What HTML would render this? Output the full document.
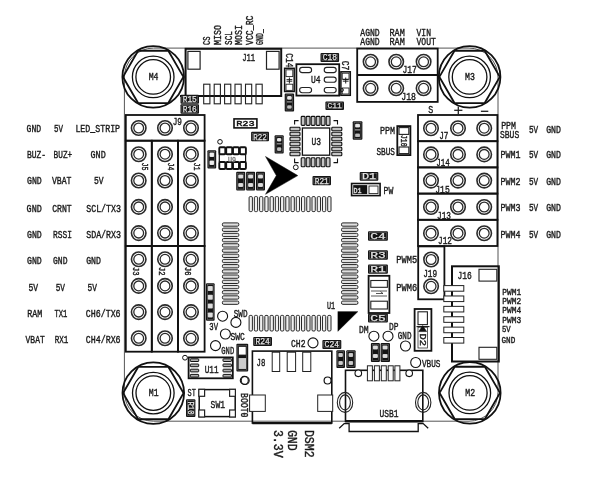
<!DOCTYPE html>
<html><head><meta charset="utf-8"><style>
html,body{margin:0;padding:0;background:#fff;}
svg{display:block;filter:grayscale(1);}
text{font-family:"Liberation Mono",monospace;}
</style></head><body>
<svg width="603" height="481" viewBox="0 0 603 481">
<rect width="603" height="481" fill="#fff"/>
<rect x="124.4" y="48.1" width="373.6" height="373.1" stroke="#555" stroke-width="1.0" fill="none" rx="29.0"/>
<circle cx="153.2" cy="76.9" r="30.8" stroke="#111" stroke-width="1.8" fill="none"/>
<polygon points="183.4,76.9 168.3,103.05 138.1,103.05 123.0,76.9 138.1,50.75 168.3,50.75" stroke="#111" stroke-width="1.8" fill="none"/>
<circle cx="153.2" cy="76.9" r="20.8" stroke="#111" stroke-width="1.3" fill="none"/>
<circle cx="153.2" cy="76.9" r="17.3" stroke="#111" stroke-width="1.3" fill="none"/>
<text x="148.7" y="80.10000000000001" font-size="10.5" textLength="9.8" lengthAdjust="spacingAndGlyphs" fill="#1a1a1a" stroke="#1a1a1a" stroke-width="0.4" text-anchor="start" font-weight="normal">M4</text>
<circle cx="469.6" cy="76.9" r="30.8" stroke="#111" stroke-width="1.8" fill="none"/>
<polygon points="499.8,76.9 484.7,103.05 454.5,103.05 439.4,76.9 454.5,50.75 484.7,50.75" stroke="#111" stroke-width="1.8" fill="none"/>
<circle cx="469.6" cy="76.9" r="20.8" stroke="#111" stroke-width="1.3" fill="none"/>
<circle cx="469.6" cy="76.9" r="17.3" stroke="#111" stroke-width="1.3" fill="none"/>
<text x="465.1" y="80.10000000000001" font-size="10.5" textLength="9.8" lengthAdjust="spacingAndGlyphs" fill="#1a1a1a" stroke="#1a1a1a" stroke-width="0.4" text-anchor="start" font-weight="normal">M3</text>
<circle cx="153.3" cy="393.1" r="30.8" stroke="#111" stroke-width="1.8" fill="none"/>
<polygon points="183.5,393.1 168.4,419.25 138.2,419.25 123.1,393.1 138.2,366.95 168.4,366.95" stroke="#111" stroke-width="1.8" fill="none"/>
<circle cx="153.3" cy="393.1" r="20.8" stroke="#111" stroke-width="1.3" fill="none"/>
<circle cx="153.3" cy="393.1" r="17.3" stroke="#111" stroke-width="1.3" fill="none"/>
<text x="148.8" y="396.3" font-size="10.5" textLength="9.8" lengthAdjust="spacingAndGlyphs" fill="#1a1a1a" stroke="#1a1a1a" stroke-width="0.4" text-anchor="start" font-weight="normal">M1</text>
<circle cx="469.8" cy="392.9" r="30.8" stroke="#111" stroke-width="1.8" fill="none"/>
<polygon points="500.0,392.9 484.9,419.05 454.7,419.05 439.6,392.9 454.7,366.75 484.9,366.75" stroke="#111" stroke-width="1.8" fill="none"/>
<circle cx="469.8" cy="392.9" r="20.8" stroke="#111" stroke-width="1.3" fill="none"/>
<circle cx="469.8" cy="392.9" r="17.3" stroke="#111" stroke-width="1.3" fill="none"/>
<text x="465.3" y="396.09999999999997" font-size="10.5" textLength="9.8" lengthAdjust="spacingAndGlyphs" fill="#1a1a1a" stroke="#1a1a1a" stroke-width="0.4" text-anchor="start" font-weight="normal">M2</text>
<rect x="125.8" y="115.0" width="78.8" height="25.7" stroke="#111" stroke-width="1.8" fill="none" rx="0"/>
<rect x="125.8" y="140.7" width="26.0" height="105.3" stroke="#111" stroke-width="1.8" fill="none" rx="0"/>
<rect x="151.8" y="140.7" width="26.2" height="105.3" stroke="#111" stroke-width="1.8" fill="none" rx="0"/>
<rect x="178.0" y="140.7" width="26.6" height="105.3" stroke="#111" stroke-width="1.8" fill="none" rx="0"/>
<rect x="125.8" y="246.0" width="26.0" height="105.7" stroke="#111" stroke-width="1.8" fill="none" rx="0"/>
<rect x="151.8" y="246.0" width="26.2" height="105.7" stroke="#111" stroke-width="1.8" fill="none" rx="0"/>
<rect x="178.0" y="246.0" width="26.6" height="105.7" stroke="#111" stroke-width="1.8" fill="none" rx="0"/>
<circle cx="138.7" cy="128.0" r="7.25" stroke="#2a2a2a" stroke-width="1.6" fill="none"/>
<circle cx="138.7" cy="128.0" r="4.9" stroke="#2a2a2a" stroke-width="1.3" fill="none"/>
<circle cx="165.0" cy="128.0" r="7.25" stroke="#2a2a2a" stroke-width="1.6" fill="none"/>
<circle cx="165.0" cy="128.0" r="4.9" stroke="#2a2a2a" stroke-width="1.3" fill="none"/>
<circle cx="191.0" cy="128.0" r="7.25" stroke="#2a2a2a" stroke-width="1.6" fill="none"/>
<circle cx="191.0" cy="128.0" r="4.9" stroke="#2a2a2a" stroke-width="1.3" fill="none"/>
<circle cx="138.7" cy="154.2" r="7.25" stroke="#2a2a2a" stroke-width="1.6" fill="none"/>
<circle cx="138.7" cy="154.2" r="4.9" stroke="#2a2a2a" stroke-width="1.3" fill="none"/>
<circle cx="165.0" cy="154.2" r="7.25" stroke="#2a2a2a" stroke-width="1.6" fill="none"/>
<circle cx="165.0" cy="154.2" r="4.9" stroke="#2a2a2a" stroke-width="1.3" fill="none"/>
<circle cx="191.0" cy="154.2" r="7.25" stroke="#2a2a2a" stroke-width="1.6" fill="none"/>
<circle cx="191.0" cy="154.2" r="4.9" stroke="#2a2a2a" stroke-width="1.3" fill="none"/>
<circle cx="138.7" cy="180.5" r="7.25" stroke="#2a2a2a" stroke-width="1.6" fill="none"/>
<circle cx="138.7" cy="180.5" r="4.9" stroke="#2a2a2a" stroke-width="1.3" fill="none"/>
<circle cx="165.0" cy="180.5" r="7.25" stroke="#2a2a2a" stroke-width="1.6" fill="none"/>
<circle cx="165.0" cy="180.5" r="4.9" stroke="#2a2a2a" stroke-width="1.3" fill="none"/>
<circle cx="191.0" cy="180.5" r="7.25" stroke="#2a2a2a" stroke-width="1.6" fill="none"/>
<circle cx="191.0" cy="180.5" r="4.9" stroke="#2a2a2a" stroke-width="1.3" fill="none"/>
<circle cx="138.7" cy="206.9" r="7.25" stroke="#2a2a2a" stroke-width="1.6" fill="none"/>
<circle cx="138.7" cy="206.9" r="4.9" stroke="#2a2a2a" stroke-width="1.3" fill="none"/>
<circle cx="165.0" cy="206.9" r="7.25" stroke="#2a2a2a" stroke-width="1.6" fill="none"/>
<circle cx="165.0" cy="206.9" r="4.9" stroke="#2a2a2a" stroke-width="1.3" fill="none"/>
<circle cx="191.0" cy="206.9" r="7.25" stroke="#2a2a2a" stroke-width="1.6" fill="none"/>
<circle cx="191.0" cy="206.9" r="4.9" stroke="#2a2a2a" stroke-width="1.3" fill="none"/>
<circle cx="138.7" cy="233.1" r="7.25" stroke="#2a2a2a" stroke-width="1.6" fill="none"/>
<circle cx="138.7" cy="233.1" r="4.9" stroke="#2a2a2a" stroke-width="1.3" fill="none"/>
<circle cx="165.0" cy="233.1" r="7.25" stroke="#2a2a2a" stroke-width="1.6" fill="none"/>
<circle cx="165.0" cy="233.1" r="4.9" stroke="#2a2a2a" stroke-width="1.3" fill="none"/>
<circle cx="191.0" cy="233.1" r="7.25" stroke="#2a2a2a" stroke-width="1.6" fill="none"/>
<circle cx="191.0" cy="233.1" r="4.9" stroke="#2a2a2a" stroke-width="1.3" fill="none"/>
<circle cx="138.7" cy="259.3" r="7.25" stroke="#2a2a2a" stroke-width="1.6" fill="none"/>
<circle cx="138.7" cy="259.3" r="4.9" stroke="#2a2a2a" stroke-width="1.3" fill="none"/>
<circle cx="165.0" cy="259.3" r="7.25" stroke="#2a2a2a" stroke-width="1.6" fill="none"/>
<circle cx="165.0" cy="259.3" r="4.9" stroke="#2a2a2a" stroke-width="1.3" fill="none"/>
<circle cx="191.0" cy="259.3" r="7.25" stroke="#2a2a2a" stroke-width="1.6" fill="none"/>
<circle cx="191.0" cy="259.3" r="4.9" stroke="#2a2a2a" stroke-width="1.3" fill="none"/>
<circle cx="138.7" cy="285.9" r="7.25" stroke="#2a2a2a" stroke-width="1.6" fill="none"/>
<circle cx="138.7" cy="285.9" r="4.9" stroke="#2a2a2a" stroke-width="1.3" fill="none"/>
<circle cx="165.0" cy="285.9" r="7.25" stroke="#2a2a2a" stroke-width="1.6" fill="none"/>
<circle cx="165.0" cy="285.9" r="4.9" stroke="#2a2a2a" stroke-width="1.3" fill="none"/>
<circle cx="191.0" cy="285.9" r="7.25" stroke="#2a2a2a" stroke-width="1.6" fill="none"/>
<circle cx="191.0" cy="285.9" r="4.9" stroke="#2a2a2a" stroke-width="1.3" fill="none"/>
<circle cx="138.7" cy="312.1" r="7.25" stroke="#2a2a2a" stroke-width="1.6" fill="none"/>
<circle cx="138.7" cy="312.1" r="4.9" stroke="#2a2a2a" stroke-width="1.3" fill="none"/>
<circle cx="165.0" cy="312.1" r="7.25" stroke="#2a2a2a" stroke-width="1.6" fill="none"/>
<circle cx="165.0" cy="312.1" r="4.9" stroke="#2a2a2a" stroke-width="1.3" fill="none"/>
<circle cx="191.0" cy="312.1" r="7.25" stroke="#2a2a2a" stroke-width="1.6" fill="none"/>
<circle cx="191.0" cy="312.1" r="4.9" stroke="#2a2a2a" stroke-width="1.3" fill="none"/>
<circle cx="138.7" cy="338.3" r="7.25" stroke="#2a2a2a" stroke-width="1.6" fill="none"/>
<circle cx="138.7" cy="338.3" r="4.9" stroke="#2a2a2a" stroke-width="1.3" fill="none"/>
<circle cx="165.0" cy="338.3" r="7.25" stroke="#2a2a2a" stroke-width="1.6" fill="none"/>
<circle cx="165.0" cy="338.3" r="4.9" stroke="#2a2a2a" stroke-width="1.3" fill="none"/>
<circle cx="191.0" cy="338.3" r="7.25" stroke="#2a2a2a" stroke-width="1.6" fill="none"/>
<circle cx="191.0" cy="338.3" r="4.9" stroke="#2a2a2a" stroke-width="1.3" fill="none"/>
<text x="172.7" y="125.3" font-size="10.8" textLength="9.3" lengthAdjust="spacingAndGlyphs" fill="#1a1a1a" stroke="#1a1a1a" stroke-width="0.4" text-anchor="start" font-weight="normal">J9</text>
<text x="142.1" y="162.5" font-size="9" textLength="8" lengthAdjust="spacingAndGlyphs" transform="rotate(90 142.1 162.5)" fill="#1a1a1a" stroke="#1a1a1a" stroke-width="0.4" text-anchor="start" font-weight="normal">J5</text>
<text x="168.4" y="162.5" font-size="9" textLength="8" lengthAdjust="spacingAndGlyphs" transform="rotate(90 168.4 162.5)" fill="#1a1a1a" stroke="#1a1a1a" stroke-width="0.4" text-anchor="start" font-weight="normal">J4</text>
<text x="194.4" y="162.5" font-size="9" textLength="8" lengthAdjust="spacingAndGlyphs" transform="rotate(90 194.4 162.5)" fill="#1a1a1a" stroke="#1a1a1a" stroke-width="0.4" text-anchor="start" font-weight="normal">J1</text>
<text x="133.1" y="267.0" font-size="9" textLength="8.6" lengthAdjust="spacingAndGlyphs" transform="rotate(90 133.1 267.0)" fill="#1a1a1a" stroke="#1a1a1a" stroke-width="0.4" text-anchor="start" font-weight="normal">J3</text>
<text x="159.4" y="267.0" font-size="9" textLength="8.6" lengthAdjust="spacingAndGlyphs" transform="rotate(90 159.4 267.0)" fill="#1a1a1a" stroke="#1a1a1a" stroke-width="0.4" text-anchor="start" font-weight="normal">J2</text>
<text x="185.4" y="267.0" font-size="9" textLength="8.6" lengthAdjust="spacingAndGlyphs" transform="rotate(90 185.4 267.0)" fill="#1a1a1a" stroke="#1a1a1a" stroke-width="0.4" text-anchor="start" font-weight="normal">J6</text>
<text x="26.6" y="132.3" font-size="10.8" textLength="14.6" lengthAdjust="spacingAndGlyphs" fill="#1a1a1a" stroke="#1a1a1a" stroke-width="0.4" text-anchor="start" font-weight="normal">GND</text>
<text x="54.0" y="132.3" font-size="10.8" textLength="9.0" lengthAdjust="spacingAndGlyphs" fill="#1a1a1a" stroke="#1a1a1a" stroke-width="0.4" text-anchor="start" font-weight="normal">5V</text>
<text x="75.4" y="132.3" font-size="10.8" textLength="44.7" lengthAdjust="spacingAndGlyphs" fill="#1a1a1a" stroke="#1a1a1a" stroke-width="0.4" text-anchor="start" font-weight="normal">LED_STRIP</text>
<text x="27.0" y="157.9" font-size="10.8" textLength="19.1" lengthAdjust="spacingAndGlyphs" fill="#1a1a1a" stroke="#1a1a1a" stroke-width="0.4" text-anchor="start" font-weight="normal">BUZ-</text>
<text x="53.6" y="157.9" font-size="10.8" textLength="18.6" lengthAdjust="spacingAndGlyphs" fill="#1a1a1a" stroke="#1a1a1a" stroke-width="0.4" text-anchor="start" font-weight="normal">BUZ+</text>
<text x="90.5" y="157.9" font-size="10.8" textLength="15.2" lengthAdjust="spacingAndGlyphs" fill="#1a1a1a" stroke="#1a1a1a" stroke-width="0.4" text-anchor="start" font-weight="normal">GND</text>
<text x="27.0" y="184.4" font-size="10.8" textLength="14.8" lengthAdjust="spacingAndGlyphs" fill="#1a1a1a" stroke="#1a1a1a" stroke-width="0.4" text-anchor="start" font-weight="normal">GND</text>
<text x="51.9" y="184.4" font-size="10.8" textLength="19.5" lengthAdjust="spacingAndGlyphs" fill="#1a1a1a" stroke="#1a1a1a" stroke-width="0.4" text-anchor="start" font-weight="normal">VBAT</text>
<text x="94.0" y="184.4" font-size="10.8" textLength="9.6" lengthAdjust="spacingAndGlyphs" fill="#1a1a1a" stroke="#1a1a1a" stroke-width="0.4" text-anchor="start" font-weight="normal">5V</text>
<text x="26.6" y="212.0" font-size="10.8" textLength="15.2" lengthAdjust="spacingAndGlyphs" fill="#1a1a1a" stroke="#1a1a1a" stroke-width="0.4" text-anchor="start" font-weight="normal">GND</text>
<text x="52.2" y="212.0" font-size="10.8" textLength="19.5" lengthAdjust="spacingAndGlyphs" fill="#1a1a1a" stroke="#1a1a1a" stroke-width="0.4" text-anchor="start" font-weight="normal">CRNT</text>
<text x="86.2" y="212.0" font-size="10.8" textLength="34.8" lengthAdjust="spacingAndGlyphs" fill="#1a1a1a" stroke="#1a1a1a" stroke-width="0.4" text-anchor="start" font-weight="normal">SCL/TX3</text>
<text x="27.0" y="238.1" font-size="10.8" textLength="14.8" lengthAdjust="spacingAndGlyphs" fill="#1a1a1a" stroke="#1a1a1a" stroke-width="0.4" text-anchor="start" font-weight="normal">GND</text>
<text x="53.0" y="238.1" font-size="10.8" textLength="18.9" lengthAdjust="spacingAndGlyphs" fill="#1a1a1a" stroke="#1a1a1a" stroke-width="0.4" text-anchor="start" font-weight="normal">RSSI</text>
<text x="86.2" y="238.1" font-size="10.8" textLength="34.8" lengthAdjust="spacingAndGlyphs" fill="#1a1a1a" stroke="#1a1a1a" stroke-width="0.4" text-anchor="start" font-weight="normal">SDA/RX3</text>
<text x="27.0" y="264.3" font-size="10.8" textLength="14.8" lengthAdjust="spacingAndGlyphs" fill="#1a1a1a" stroke="#1a1a1a" stroke-width="0.4" text-anchor="start" font-weight="normal">GND</text>
<text x="53.0" y="264.3" font-size="10.8" textLength="14.5" lengthAdjust="spacingAndGlyphs" fill="#1a1a1a" stroke="#1a1a1a" stroke-width="0.4" text-anchor="start" font-weight="normal">GND</text>
<text x="86.2" y="264.3" font-size="10.8" textLength="14.8" lengthAdjust="spacingAndGlyphs" fill="#1a1a1a" stroke="#1a1a1a" stroke-width="0.4" text-anchor="start" font-weight="normal">GND</text>
<text x="28.4" y="290.8" font-size="10.8" textLength="9.6" lengthAdjust="spacingAndGlyphs" fill="#1a1a1a" stroke="#1a1a1a" stroke-width="0.4" text-anchor="start" font-weight="normal">5V</text>
<text x="55.7" y="290.8" font-size="10.8" textLength="9.3" lengthAdjust="spacingAndGlyphs" fill="#1a1a1a" stroke="#1a1a1a" stroke-width="0.4" text-anchor="start" font-weight="normal">5V</text>
<text x="87.6" y="290.8" font-size="10.8" textLength="9.4" lengthAdjust="spacingAndGlyphs" fill="#1a1a1a" stroke="#1a1a1a" stroke-width="0.4" text-anchor="start" font-weight="normal">5V</text>
<text x="27.3" y="317.0" font-size="10.8" textLength="15.0" lengthAdjust="spacingAndGlyphs" fill="#1a1a1a" stroke="#1a1a1a" stroke-width="0.4" text-anchor="start" font-weight="normal">RAM</text>
<text x="54.5" y="317.0" font-size="10.8" textLength="12.9" lengthAdjust="spacingAndGlyphs" fill="#1a1a1a" stroke="#1a1a1a" stroke-width="0.4" text-anchor="start" font-weight="normal">TX1</text>
<text x="85.8" y="317.0" font-size="10.8" textLength="34.8" lengthAdjust="spacingAndGlyphs" fill="#1a1a1a" stroke="#1a1a1a" stroke-width="0.4" text-anchor="start" font-weight="normal">CH6/TX6</text>
<text x="25.6" y="342.6" font-size="10.8" textLength="19.1" lengthAdjust="spacingAndGlyphs" fill="#1a1a1a" stroke="#1a1a1a" stroke-width="0.4" text-anchor="start" font-weight="normal">VBAT</text>
<text x="54.8" y="342.6" font-size="10.8" textLength="13.6" lengthAdjust="spacingAndGlyphs" fill="#1a1a1a" stroke="#1a1a1a" stroke-width="0.4" text-anchor="start" font-weight="normal">RX1</text>
<text x="85.8" y="342.6" font-size="10.8" textLength="34.8" lengthAdjust="spacingAndGlyphs" fill="#1a1a1a" stroke="#1a1a1a" stroke-width="0.4" text-anchor="start" font-weight="normal">CH4/RX6</text>
<rect x="418.0" y="115.0" width="79.4" height="26.2" stroke="#111" stroke-width="1.8" fill="none" rx="0"/>
<rect x="418.0" y="141.2" width="79.4" height="26.2" stroke="#111" stroke-width="1.8" fill="none" rx="0"/>
<rect x="418.0" y="167.4" width="79.4" height="26.2" stroke="#111" stroke-width="1.8" fill="none" rx="0"/>
<rect x="418.0" y="193.6" width="79.4" height="26.2" stroke="#111" stroke-width="1.8" fill="none" rx="0"/>
<rect x="418.0" y="219.8" width="79.4" height="26.2" stroke="#111" stroke-width="1.8" fill="none" rx="0"/>
<circle cx="431.0" cy="128.2" r="7.25" stroke="#2a2a2a" stroke-width="1.6" fill="none"/>
<circle cx="431.0" cy="128.2" r="4.9" stroke="#2a2a2a" stroke-width="1.3" fill="none"/>
<circle cx="458.0" cy="128.2" r="7.25" stroke="#2a2a2a" stroke-width="1.6" fill="none"/>
<circle cx="458.0" cy="128.2" r="4.9" stroke="#2a2a2a" stroke-width="1.3" fill="none"/>
<circle cx="484.2" cy="128.2" r="7.25" stroke="#2a2a2a" stroke-width="1.6" fill="none"/>
<circle cx="484.2" cy="128.2" r="4.9" stroke="#2a2a2a" stroke-width="1.3" fill="none"/>
<circle cx="431.0" cy="154.4" r="7.25" stroke="#2a2a2a" stroke-width="1.6" fill="none"/>
<circle cx="431.0" cy="154.4" r="4.9" stroke="#2a2a2a" stroke-width="1.3" fill="none"/>
<circle cx="458.0" cy="154.4" r="7.25" stroke="#2a2a2a" stroke-width="1.6" fill="none"/>
<circle cx="458.0" cy="154.4" r="4.9" stroke="#2a2a2a" stroke-width="1.3" fill="none"/>
<circle cx="484.2" cy="154.4" r="7.25" stroke="#2a2a2a" stroke-width="1.6" fill="none"/>
<circle cx="484.2" cy="154.4" r="4.9" stroke="#2a2a2a" stroke-width="1.3" fill="none"/>
<circle cx="431.0" cy="180.6" r="7.25" stroke="#2a2a2a" stroke-width="1.6" fill="none"/>
<circle cx="431.0" cy="180.6" r="4.9" stroke="#2a2a2a" stroke-width="1.3" fill="none"/>
<circle cx="458.0" cy="180.6" r="7.25" stroke="#2a2a2a" stroke-width="1.6" fill="none"/>
<circle cx="458.0" cy="180.6" r="4.9" stroke="#2a2a2a" stroke-width="1.3" fill="none"/>
<circle cx="484.2" cy="180.6" r="7.25" stroke="#2a2a2a" stroke-width="1.6" fill="none"/>
<circle cx="484.2" cy="180.6" r="4.9" stroke="#2a2a2a" stroke-width="1.3" fill="none"/>
<circle cx="431.0" cy="207.0" r="7.25" stroke="#2a2a2a" stroke-width="1.6" fill="none"/>
<circle cx="431.0" cy="207.0" r="4.9" stroke="#2a2a2a" stroke-width="1.3" fill="none"/>
<circle cx="458.0" cy="207.0" r="7.25" stroke="#2a2a2a" stroke-width="1.6" fill="none"/>
<circle cx="458.0" cy="207.0" r="4.9" stroke="#2a2a2a" stroke-width="1.3" fill="none"/>
<circle cx="484.2" cy="207.0" r="7.25" stroke="#2a2a2a" stroke-width="1.6" fill="none"/>
<circle cx="484.2" cy="207.0" r="4.9" stroke="#2a2a2a" stroke-width="1.3" fill="none"/>
<circle cx="431.0" cy="233.2" r="7.25" stroke="#2a2a2a" stroke-width="1.6" fill="none"/>
<circle cx="431.0" cy="233.2" r="4.9" stroke="#2a2a2a" stroke-width="1.3" fill="none"/>
<circle cx="458.0" cy="233.2" r="7.25" stroke="#2a2a2a" stroke-width="1.6" fill="none"/>
<circle cx="458.0" cy="233.2" r="4.9" stroke="#2a2a2a" stroke-width="1.3" fill="none"/>
<circle cx="484.2" cy="233.2" r="7.25" stroke="#2a2a2a" stroke-width="1.6" fill="none"/>
<circle cx="484.2" cy="233.2" r="4.9" stroke="#2a2a2a" stroke-width="1.3" fill="none"/>
<text x="428.2" y="113.0" font-size="10.8" textLength="5" lengthAdjust="spacingAndGlyphs" fill="#1a1a1a" stroke="#1a1a1a" stroke-width="0.4" text-anchor="start" font-weight="normal">S</text>
<line x1="454.2" y1="110.3" x2="462.4" y2="110.3" stroke="#222" stroke-width="1.3"/>
<line x1="458.3" y1="106.4" x2="458.3" y2="114.4" stroke="#222" stroke-width="1.3"/>
<line x1="480.9" y1="111.3" x2="488.3" y2="111.3" stroke="#222" stroke-width="1.3"/>
<text x="439.2" y="139.2" font-size="10.8" textLength="9.2" lengthAdjust="spacingAndGlyphs" fill="#1a1a1a" stroke="#1a1a1a" stroke-width="0.4" text-anchor="start" font-weight="normal">J7</text>
<text x="436.2" y="166.3" font-size="10.8" textLength="13.5" lengthAdjust="spacingAndGlyphs" fill="#1a1a1a" stroke="#1a1a1a" stroke-width="0.4" text-anchor="start" font-weight="normal">J14</text>
<text x="435.3" y="192.6" font-size="10.8" textLength="14.4" lengthAdjust="spacingAndGlyphs" fill="#1a1a1a" stroke="#1a1a1a" stroke-width="0.4" text-anchor="start" font-weight="normal">J15</text>
<text x="437.0" y="219.2" font-size="10.8" textLength="14.0" lengthAdjust="spacingAndGlyphs" fill="#1a1a1a" stroke="#1a1a1a" stroke-width="0.4" text-anchor="start" font-weight="normal">J13</text>
<text x="438.0" y="243.5" font-size="10.8" textLength="14.0" lengthAdjust="spacingAndGlyphs" fill="#1a1a1a" stroke="#1a1a1a" stroke-width="0.4" text-anchor="start" font-weight="normal">J12</text>
<rect x="418.2" y="246.4" width="26.2" height="52.9" stroke="#111" stroke-width="1.8" fill="none" rx="0"/>
<circle cx="431.1" cy="259.5" r="7.25" stroke="#2a2a2a" stroke-width="1.6" fill="none"/>
<circle cx="431.1" cy="259.5" r="4.9" stroke="#2a2a2a" stroke-width="1.3" fill="none"/>
<circle cx="431.1" cy="286.3" r="7.25" stroke="#2a2a2a" stroke-width="1.6" fill="none"/>
<circle cx="431.1" cy="286.3" r="4.9" stroke="#2a2a2a" stroke-width="1.3" fill="none"/>
<text x="423.2" y="276.6" font-size="10.8" textLength="14" lengthAdjust="spacingAndGlyphs" fill="#1a1a1a" stroke="#1a1a1a" stroke-width="0.4" text-anchor="start" font-weight="normal">J19</text>
<text x="501.2" y="129.0" font-size="10.8" textLength="14.8" lengthAdjust="spacingAndGlyphs" fill="#1a1a1a" stroke="#1a1a1a" stroke-width="0.4" text-anchor="start" font-weight="normal">PPM</text>
<text x="500.0" y="138.4" font-size="10.8" textLength="19.2" lengthAdjust="spacingAndGlyphs" fill="#1a1a1a" stroke="#1a1a1a" stroke-width="0.4" text-anchor="start" font-weight="normal">SBUS</text>
<text x="529.0" y="133.0" font-size="10.8" textLength="9.2" lengthAdjust="spacingAndGlyphs" fill="#1a1a1a" stroke="#1a1a1a" stroke-width="0.4" text-anchor="start" font-weight="normal">5V</text>
<text x="546.2" y="133.0" font-size="10.8" textLength="14.8" lengthAdjust="spacingAndGlyphs" fill="#1a1a1a" stroke="#1a1a1a" stroke-width="0.4" text-anchor="start" font-weight="normal">GND</text>
<text x="500.5" y="157.9" font-size="10.8" textLength="20" lengthAdjust="spacingAndGlyphs" fill="#1a1a1a" stroke="#1a1a1a" stroke-width="0.4" text-anchor="start" font-weight="normal">PWM1</text>
<text x="529.0" y="157.9" font-size="10.8" textLength="9.2" lengthAdjust="spacingAndGlyphs" fill="#1a1a1a" stroke="#1a1a1a" stroke-width="0.4" text-anchor="start" font-weight="normal">5V</text>
<text x="546.2" y="157.9" font-size="10.8" textLength="14.8" lengthAdjust="spacingAndGlyphs" fill="#1a1a1a" stroke="#1a1a1a" stroke-width="0.4" text-anchor="start" font-weight="normal">GND</text>
<text x="500.5" y="184.8" font-size="10.8" textLength="20" lengthAdjust="spacingAndGlyphs" fill="#1a1a1a" stroke="#1a1a1a" stroke-width="0.4" text-anchor="start" font-weight="normal">PWM2</text>
<text x="529.0" y="184.8" font-size="10.8" textLength="9.2" lengthAdjust="spacingAndGlyphs" fill="#1a1a1a" stroke="#1a1a1a" stroke-width="0.4" text-anchor="start" font-weight="normal">5V</text>
<text x="546.2" y="184.8" font-size="10.8" textLength="14.8" lengthAdjust="spacingAndGlyphs" fill="#1a1a1a" stroke="#1a1a1a" stroke-width="0.4" text-anchor="start" font-weight="normal">GND</text>
<text x="500.5" y="211.0" font-size="10.8" textLength="20" lengthAdjust="spacingAndGlyphs" fill="#1a1a1a" stroke="#1a1a1a" stroke-width="0.4" text-anchor="start" font-weight="normal">PWM3</text>
<text x="529.0" y="211.0" font-size="10.8" textLength="9.2" lengthAdjust="spacingAndGlyphs" fill="#1a1a1a" stroke="#1a1a1a" stroke-width="0.4" text-anchor="start" font-weight="normal">5V</text>
<text x="546.2" y="211.0" font-size="10.8" textLength="14.8" lengthAdjust="spacingAndGlyphs" fill="#1a1a1a" stroke="#1a1a1a" stroke-width="0.4" text-anchor="start" font-weight="normal">GND</text>
<text x="500.5" y="237.8" font-size="10.8" textLength="20" lengthAdjust="spacingAndGlyphs" fill="#1a1a1a" stroke="#1a1a1a" stroke-width="0.4" text-anchor="start" font-weight="normal">PWM4</text>
<text x="529.0" y="237.8" font-size="10.8" textLength="9.2" lengthAdjust="spacingAndGlyphs" fill="#1a1a1a" stroke="#1a1a1a" stroke-width="0.4" text-anchor="start" font-weight="normal">5V</text>
<text x="546.2" y="237.8" font-size="10.8" textLength="14.8" lengthAdjust="spacingAndGlyphs" fill="#1a1a1a" stroke="#1a1a1a" stroke-width="0.4" text-anchor="start" font-weight="normal">GND</text>
<text x="209.7" y="44.9" font-size="10.5" textLength="8.5" lengthAdjust="spacingAndGlyphs" transform="rotate(-90 209.7 44.9)" fill="#1a1a1a" stroke="#1a1a1a" stroke-width="0.4" text-anchor="start" font-weight="normal">CS</text>
<text x="220.7" y="44.9" font-size="10.5" textLength="19.9" lengthAdjust="spacingAndGlyphs" transform="rotate(-90 220.7 44.9)" fill="#1a1a1a" stroke="#1a1a1a" stroke-width="0.4" text-anchor="start" font-weight="normal">MISO</text>
<text x="231.89999999999998" y="44.9" font-size="10.5" textLength="13.7" lengthAdjust="spacingAndGlyphs" transform="rotate(-90 231.89999999999998 44.9)" fill="#1a1a1a" stroke="#1a1a1a" stroke-width="0.4" text-anchor="start" font-weight="normal">SCL</text>
<text x="242.5" y="44.9" font-size="10.5" textLength="19.9" lengthAdjust="spacingAndGlyphs" transform="rotate(-90 242.5 44.9)" fill="#1a1a1a" stroke="#1a1a1a" stroke-width="0.4" text-anchor="start" font-weight="normal">MOSI</text>
<text x="253.29999999999998" y="44.9" font-size="10.5" textLength="29.3" lengthAdjust="spacingAndGlyphs" transform="rotate(-90 253.29999999999998 44.9)" fill="#1a1a1a" stroke="#1a1a1a" stroke-width="0.4" text-anchor="start" font-weight="normal">VCC_RC</text>
<text x="263.3" y="44.9" font-size="10.5" textLength="15.8" lengthAdjust="spacingAndGlyphs" transform="rotate(-90 263.3 44.9)" fill="#1a1a1a" stroke="#1a1a1a" stroke-width="0.4" text-anchor="start" font-weight="normal">GND_</text>
<line x1="180" y1="96" x2="281.2" y2="96" stroke="#111" stroke-width="1.8"/>
<rect x="185.6" y="48.8" width="95.6" height="47.2" stroke="#111" stroke-width="2.0" fill="none" rx="0"/>
<rect x="187.9" y="51.4" width="12.2" height="17.8" stroke="#222" stroke-width="1.2" fill="#fff" rx="0"/>
<rect x="266.5" y="51.4" width="12.6" height="17.8" stroke="#222" stroke-width="1.2" fill="#fff" rx="0"/>
<rect x="203.7" y="84.2" width="6.2" height="19.6" stroke="#222" stroke-width="1.1" fill="none" rx="0"/>
<rect x="214.2" y="84.2" width="6.2" height="19.6" stroke="#222" stroke-width="1.1" fill="none" rx="0"/>
<rect x="224.6" y="84.2" width="6.2" height="19.6" stroke="#222" stroke-width="1.1" fill="none" rx="0"/>
<rect x="235.0" y="84.2" width="6.2" height="19.6" stroke="#222" stroke-width="1.1" fill="none" rx="0"/>
<rect x="245.5" y="84.2" width="6.2" height="19.6" stroke="#222" stroke-width="1.1" fill="none" rx="0"/>
<rect x="256.0" y="84.2" width="6.2" height="19.6" stroke="#222" stroke-width="1.1" fill="none" rx="0"/>
<text x="242.2" y="60.7" font-size="10.8" textLength="13" lengthAdjust="spacingAndGlyphs" fill="#1a1a1a" stroke="#1a1a1a" stroke-width="0.4" text-anchor="start" font-weight="normal">J11</text>
<rect x="180.5" y="94.8" width="18.5" height="9.0" fill="#141414" rx="1.0"/>
<rect x="181.9" y="96.2" width="15.7" height="6.2" stroke="#777" stroke-width="0.5" fill="none" rx="0"/>
<text x="182.70" y="102.20" font-size="8.5" textLength="14.1" lengthAdjust="spacingAndGlyphs" fill="#e2e2e2" stroke="#e2e2e2" stroke-width="0.25">R15</text>
<rect x="180.5" y="104.3" width="18.5" height="9.5" fill="#141414" rx="1.0"/>
<rect x="181.9" y="105.7" width="15.7" height="6.7" stroke="#777" stroke-width="0.5" fill="none" rx="0"/>
<text x="182.70" y="112.20" font-size="9.3" textLength="14.1" lengthAdjust="spacingAndGlyphs" fill="#e2e2e2" stroke="#e2e2e2" stroke-width="0.25">R16</text>
<text x="286.0" y="53.2" font-size="10" textLength="14.2" lengthAdjust="spacingAndGlyphs" transform="rotate(90 286.0 53.2)" fill="#1a1a1a" stroke="#1a1a1a" stroke-width="0.4" text-anchor="start" font-weight="normal">C14</text>
<rect x="284.6" y="68.3" width="9.6" height="23.2" stroke="#111" stroke-width="1.5" fill="none" rx="0"/>
<rect x="286.0" y="69.8" width="6.8" height="6.8" stroke="#222" stroke-width="0.9" fill="#fff" rx="0"/>
<rect x="286.0" y="84.2" width="6.8" height="6.2" stroke="#222" stroke-width="0.9" fill="#fff" rx="0"/>
<line x1="286.5" y1="79.6" x2="292.3" y2="79.6" stroke="#111" stroke-width="0.9"/>
<line x1="286.5" y1="81.2" x2="292.3" y2="81.2" stroke="#111" stroke-width="0.9"/>
<line x1="289.4" y1="77.5" x2="289.4" y2="83.5" stroke="#111" stroke-width="0.9"/>
<rect x="284.7" y="93.5" width="9.400000000000034" height="17.900000000000006" fill="#141414" rx="1.0"/>
<rect x="286.09999999999997" y="94.9" width="6.600000000000034" height="15.100000000000005" stroke="#777" stroke-width="0.5" fill="none" rx="0"/>
<rect x="287.09999999999997" y="96.1" width="4.600000000000034" height="3.5800000000000014" stroke="#111" stroke-width="0.1" fill="#e8e8e8" rx="1.2"/>
<line x1="286.9" y1="101.913" x2="291.90000000000003" y2="101.913" stroke="#cfcfcf" stroke-width="0.9"/>
<rect x="287.09999999999997" y="105.22000000000001" width="4.600000000000034" height="3.5800000000000014" stroke="#111" stroke-width="0.1" fill="#bdbdbd" rx="1.2"/>
<rect x="296.4" y="64.2" width="42.8" height="31.4" stroke="#111" stroke-width="1.8" fill="none" rx="0"/>
<rect x="299.6" y="67.4" width="12" height="5.2" stroke="#222" stroke-width="1.1" fill="none" rx="2.6"/>
<rect x="299.6" y="87.5" width="12" height="5.2" stroke="#222" stroke-width="1.1" fill="none" rx="2.6"/>
<rect x="324.2" y="67.4" width="12" height="5.2" stroke="#222" stroke-width="1.1" fill="none" rx="2.6"/>
<rect x="324.2" y="77.1" width="12" height="5.2" stroke="#222" stroke-width="1.1" fill="none" rx="2.6"/>
<rect x="324.2" y="87.5" width="12" height="5.2" stroke="#222" stroke-width="1.1" fill="none" rx="2.6"/>
<text x="311.0" y="83.0" font-size="10.8" textLength="9.6" lengthAdjust="spacingAndGlyphs" fill="#1a1a1a" stroke="#1a1a1a" stroke-width="0.4" text-anchor="start" font-weight="normal">U4</text>
<rect x="320.5" y="52.9" width="18.600000000000023" height="9.100000000000001" fill="#141414" rx="1.0"/>
<rect x="321.9" y="54.3" width="15.800000000000022" height="6.300000000000002" stroke="#777" stroke-width="0.5" fill="none" rx="0"/>
<text x="322.70" y="60.40" font-size="8.7" textLength="14.2" lengthAdjust="spacingAndGlyphs" fill="#e2e2e2" stroke="#e2e2e2" stroke-width="0.25">C18</text>
<text x="341.5" y="60.7" font-size="10" textLength="9.7" lengthAdjust="spacingAndGlyphs" transform="rotate(90 341.5 60.7)" fill="#1a1a1a" stroke="#1a1a1a" stroke-width="0.4" text-anchor="start" font-weight="normal">C7</text>
<rect x="340.9" y="71.8" width="9.4" height="23.5" stroke="#111" stroke-width="1.5" fill="none" rx="0"/>
<rect x="342.2" y="73.2" width="6.8" height="6.0" stroke="#222" stroke-width="0.9" fill="#fff" rx="0"/>
<rect x="342.2" y="88.0" width="6.8" height="6.0" stroke="#222" stroke-width="0.9" fill="#fff" rx="0"/>
<line x1="342.8" y1="79.6" x2="348.6" y2="79.6" stroke="#111" stroke-width="0.9"/>
<line x1="342.8" y1="81.2" x2="348.6" y2="81.2" stroke="#111" stroke-width="0.9"/>
<line x1="345.7" y1="77.5" x2="345.7" y2="83.5" stroke="#111" stroke-width="0.9"/>
<circle cx="341.9" cy="90.0" r="1.6" stroke="#111" stroke-width="0.8" fill="none"/>
<rect x="325.4" y="101.4" width="18.600000000000023" height="8.599999999999994" fill="#141414" rx="1.0"/>
<rect x="326.79999999999995" y="102.80000000000001" width="15.800000000000022" height="5.7999999999999945" stroke="#777" stroke-width="0.5" fill="none" rx="0"/>
<text x="327.60" y="108.40" font-size="7.9" textLength="14.2" lengthAdjust="spacingAndGlyphs" fill="#e2e2e2" stroke="#e2e2e2" stroke-width="0.25">C11</text>
<rect x="357.2" y="48.6" width="80.5" height="53.3" stroke="#111" stroke-width="1.8" fill="none" rx="0"/>
<line x1="357.2" y1="75.0" x2="437.7" y2="75.0" stroke="#111" stroke-width="1.8"/>
<circle cx="370.6" cy="61.8" r="7.25" stroke="#2a2a2a" stroke-width="1.6" fill="none"/>
<circle cx="370.6" cy="61.8" r="4.9" stroke="#2a2a2a" stroke-width="1.3" fill="none"/>
<circle cx="396.2" cy="61.8" r="7.25" stroke="#2a2a2a" stroke-width="1.6" fill="none"/>
<circle cx="396.2" cy="61.8" r="4.9" stroke="#2a2a2a" stroke-width="1.3" fill="none"/>
<circle cx="423.6" cy="61.8" r="7.25" stroke="#2a2a2a" stroke-width="1.6" fill="none"/>
<circle cx="423.6" cy="61.8" r="4.9" stroke="#2a2a2a" stroke-width="1.3" fill="none"/>
<circle cx="370.6" cy="88.3" r="7.25" stroke="#2a2a2a" stroke-width="1.6" fill="none"/>
<circle cx="370.6" cy="88.3" r="4.9" stroke="#2a2a2a" stroke-width="1.3" fill="none"/>
<circle cx="396.2" cy="88.3" r="7.25" stroke="#2a2a2a" stroke-width="1.6" fill="none"/>
<circle cx="396.2" cy="88.3" r="4.9" stroke="#2a2a2a" stroke-width="1.3" fill="none"/>
<circle cx="423.6" cy="88.3" r="7.25" stroke="#2a2a2a" stroke-width="1.6" fill="none"/>
<circle cx="423.6" cy="88.3" r="4.9" stroke="#2a2a2a" stroke-width="1.3" fill="none"/>
<text x="402.4" y="73.2" font-size="10.8" textLength="14.4" lengthAdjust="spacingAndGlyphs" fill="#1a1a1a" stroke="#1a1a1a" stroke-width="0.4" text-anchor="start" font-weight="normal">J17</text>
<text x="401.3" y="99.8" font-size="10.8" textLength="14.7" lengthAdjust="spacingAndGlyphs" fill="#1a1a1a" stroke="#1a1a1a" stroke-width="0.4" text-anchor="start" font-weight="normal">J18</text>
<text x="360.3" y="36.1" font-size="10.8" textLength="19.4" lengthAdjust="spacingAndGlyphs" fill="#1a1a1a" stroke="#1a1a1a" stroke-width="0.4" text-anchor="start" font-weight="normal">AGND</text>
<text x="360.3" y="45.3" font-size="10.8" textLength="19.4" lengthAdjust="spacingAndGlyphs" fill="#1a1a1a" stroke="#1a1a1a" stroke-width="0.4" text-anchor="start" font-weight="normal">AGND</text>
<text x="389.5" y="36.1" font-size="10.8" textLength="15.3" lengthAdjust="spacingAndGlyphs" fill="#1a1a1a" stroke="#1a1a1a" stroke-width="0.4" text-anchor="start" font-weight="normal">RAM</text>
<text x="389.5" y="45.3" font-size="10.8" textLength="15.3" lengthAdjust="spacingAndGlyphs" fill="#1a1a1a" stroke="#1a1a1a" stroke-width="0.4" text-anchor="start" font-weight="normal">RAM</text>
<text x="416.5" y="36.1" font-size="10.8" textLength="14.5" lengthAdjust="spacingAndGlyphs" fill="#1a1a1a" stroke="#1a1a1a" stroke-width="0.4" text-anchor="start" font-weight="normal">VIN</text>
<text x="416.5" y="45.3" font-size="10.8" textLength="19.5" lengthAdjust="spacingAndGlyphs" fill="#1a1a1a" stroke="#1a1a1a" stroke-width="0.4" text-anchor="start" font-weight="normal">VOUT</text>
<rect x="234.0" y="118.89999999999999" width="22.9" height="8.999999999999995" stroke="#111" stroke-width="1.6" fill="#fff" rx="0"/>
<text x="236.2" y="126.19999999999999" font-size="8" textLength="18.5" lengthAdjust="spacingAndGlyphs" fill="#111" stroke="#111" stroke-width="0.4" text-anchor="start" font-weight="normal">R23</text>
<rect x="251.1" y="131.8" width="17.900000000000006" height="9.5" fill="#141414" rx="1.0"/>
<rect x="252.5" y="133.20000000000002" width="15.100000000000005" height="6.7" stroke="#777" stroke-width="0.5" fill="none" rx="0"/>
<text x="253.30" y="139.70" font-size="9.3" textLength="13.5" lengthAdjust="spacingAndGlyphs" fill="#e2e2e2" stroke="#e2e2e2" stroke-width="0.25">R22</text>
<rect x="274.6" y="135.3" width="9.099999999999966" height="18.19999999999999" fill="#141414" rx="1.0"/>
<rect x="276.0" y="136.70000000000002" width="6.299999999999966" height="15.399999999999988" stroke="#777" stroke-width="0.5" fill="none" rx="0"/>
<rect x="277.0" y="137.9" width="4.299999999999966" height="3.639999999999998" stroke="#111" stroke-width="0.1" fill="#e8e8e8" rx="1.2"/>
<line x1="276.8" y1="143.854" x2="281.5" y2="143.854" stroke="#cfcfcf" stroke-width="0.9"/>
<rect x="277.0" y="147.26000000000002" width="4.299999999999966" height="3.639999999999998" stroke="#111" stroke-width="0.1" fill="#bdbdbd" rx="1.2"/>
<circle cx="220.0" cy="141.8" r="2.3" stroke="#111" stroke-width="1.0" fill="none"/>
<rect x="219.3" y="147.3" width="6.0" height="7.0" stroke="#111" stroke-width="1.9" fill="#fff" rx="1.0"/>
<rect x="219.3" y="162.0" width="6.0" height="7.0" stroke="#111" stroke-width="1.9" fill="#fff" rx="1.0"/>
<rect x="226.20000000000002" y="147.3" width="6.0" height="7.0" stroke="#111" stroke-width="1.9" fill="#fff" rx="1.0"/>
<rect x="226.20000000000002" y="162.0" width="6.0" height="7.0" stroke="#111" stroke-width="1.9" fill="#fff" rx="1.0"/>
<rect x="233.0" y="147.3" width="6.0" height="7.0" stroke="#111" stroke-width="1.9" fill="#fff" rx="1.0"/>
<rect x="233.0" y="162.0" width="6.0" height="7.0" stroke="#111" stroke-width="1.9" fill="#fff" rx="1.0"/>
<rect x="239.9" y="147.3" width="6.0" height="7.0" stroke="#111" stroke-width="1.9" fill="#fff" rx="1.0"/>
<rect x="239.9" y="162.0" width="6.0" height="7.0" stroke="#111" stroke-width="1.9" fill="#fff" rx="1.0"/>
<line x1="219.3" y1="154" x2="219.3" y2="162" stroke="#111" stroke-width="1.2"/>
<line x1="245.6" y1="154" x2="245.6" y2="162" stroke="#111" stroke-width="1.2"/>
<text x="228.0" y="161.5" font-size="8" textLength="8" lengthAdjust="spacingAndGlyphs" fill="#777" stroke="#777" stroke-width="0.4" text-anchor="start" font-weight="normal">U9</text>
<rect x="207.4" y="150.2" width="8.799999999999983" height="18.30000000000001" fill="#141414" rx="1.0"/>
<rect x="208.8" y="151.6" width="5.999999999999983" height="15.50000000000001" stroke="#777" stroke-width="0.5" fill="none" rx="0"/>
<rect x="209.5" y="152.5" width="4.6" height="4.6" stroke="#111" stroke-width="0.1" fill="#eee" rx="1"/>
<rect x="209.5" y="160.5" width="4.6" height="4.6" stroke="#111" stroke-width="0.1" fill="#eee" rx="1"/>
<rect x="236.2" y="171.8" width="9.0" height="18.69999999999999" fill="#141414" rx="1.0"/>
<rect x="237.6" y="173.20000000000002" width="6.2" height="15.899999999999988" stroke="#777" stroke-width="0.5" fill="none" rx="0"/>
<rect x="238.2" y="174.5" width="5" height="4" stroke="#111" stroke-width="0.1" fill="#ddd" rx="1"/>
<rect x="238.2" y="183" width="5" height="4" stroke="#111" stroke-width="0.1" fill="#ddd" rx="1"/>
<rect x="246.1" y="171.8" width="9.0" height="18.69999999999999" fill="#141414" rx="1.0"/>
<rect x="247.5" y="173.20000000000002" width="6.2" height="15.899999999999988" stroke="#777" stroke-width="0.5" fill="none" rx="0"/>
<rect x="248.1" y="174.5" width="5" height="4" stroke="#111" stroke-width="0.1" fill="#ddd" rx="1"/>
<rect x="248.1" y="183" width="5" height="4" stroke="#111" stroke-width="0.1" fill="#ddd" rx="1"/>
<rect x="256.0" y="171.8" width="9.0" height="18.69999999999999" fill="#141414" rx="1.0"/>
<rect x="257.4" y="173.20000000000002" width="6.2" height="15.899999999999988" stroke="#777" stroke-width="0.5" fill="none" rx="0"/>
<rect x="258.0" y="174.5" width="5" height="4" stroke="#111" stroke-width="0.1" fill="#ddd" rx="1"/>
<rect x="258.0" y="183" width="5" height="4" stroke="#111" stroke-width="0.1" fill="#ddd" rx="1"/>
<rect x="312.5" y="176.0" width="18.5" height="9.199999999999989" fill="#141414" rx="1.0"/>
<rect x="313.9" y="177.4" width="15.7" height="6.399999999999989" stroke="#777" stroke-width="0.5" fill="none" rx="0"/>
<text x="314.70" y="183.60" font-size="8.8" textLength="14.1" lengthAdjust="spacingAndGlyphs" fill="#e2e2e2" stroke="#e2e2e2" stroke-width="0.25">R21</text>
<polygon points="265.5,156.5 297.8,175.6 265.5,194.3 276.3,175.6" stroke="#111" stroke-width="0.5" fill="#000"/>
<rect x="302.4" y="128.0" width="27.3" height="27.2" stroke="#111" stroke-width="1.3" fill="none" rx="0"/>
<rect x="301.2" y="116.4" width="3.8" height="9.0" stroke="#111" stroke-width="1.1" fill="#c4c4c4" rx="0.9"/>
<rect x="301.2" y="157.8" width="3.8" height="9.0" stroke="#111" stroke-width="1.1" fill="#c4c4c4" rx="0.9"/>
<rect x="290.0" y="127.2" width="10.0" height="3.6" stroke="#111" stroke-width="1.1" fill="#c4c4c4" rx="0.9"/>
<rect x="331.8" y="127.2" width="10.0" height="3.6" stroke="#111" stroke-width="1.1" fill="#c4c4c4" rx="0.9"/>
<rect x="306.2" y="116.4" width="3.8" height="9.0" stroke="#111" stroke-width="1.1" fill="#c4c4c4" rx="0.9"/>
<rect x="306.2" y="157.8" width="3.8" height="9.0" stroke="#111" stroke-width="1.1" fill="#c4c4c4" rx="0.9"/>
<rect x="290.0" y="132.2" width="10.0" height="3.6" stroke="#111" stroke-width="1.1" fill="#c4c4c4" rx="0.9"/>
<rect x="331.8" y="132.2" width="10.0" height="3.6" stroke="#111" stroke-width="1.1" fill="#c4c4c4" rx="0.9"/>
<rect x="311.2" y="116.4" width="3.8" height="9.0" stroke="#111" stroke-width="1.1" fill="#c4c4c4" rx="0.9"/>
<rect x="311.2" y="157.8" width="3.8" height="9.0" stroke="#111" stroke-width="1.1" fill="#c4c4c4" rx="0.9"/>
<rect x="290.0" y="137.2" width="10.0" height="3.6" stroke="#111" stroke-width="1.1" fill="#c4c4c4" rx="0.9"/>
<rect x="331.8" y="137.2" width="10.0" height="3.6" stroke="#111" stroke-width="1.1" fill="#c4c4c4" rx="0.9"/>
<rect x="316.2" y="116.4" width="3.8" height="9.0" stroke="#111" stroke-width="1.1" fill="#c4c4c4" rx="0.9"/>
<rect x="316.2" y="157.8" width="3.8" height="9.0" stroke="#111" stroke-width="1.1" fill="#c4c4c4" rx="0.9"/>
<rect x="290.0" y="142.2" width="10.0" height="3.6" stroke="#111" stroke-width="1.1" fill="#c4c4c4" rx="0.9"/>
<rect x="331.8" y="142.2" width="10.0" height="3.6" stroke="#111" stroke-width="1.1" fill="#c4c4c4" rx="0.9"/>
<rect x="321.2" y="116.4" width="3.8" height="9.0" stroke="#111" stroke-width="1.1" fill="#c4c4c4" rx="0.9"/>
<rect x="321.2" y="157.8" width="3.8" height="9.0" stroke="#111" stroke-width="1.1" fill="#c4c4c4" rx="0.9"/>
<rect x="290.0" y="147.2" width="10.0" height="3.6" stroke="#111" stroke-width="1.1" fill="#c4c4c4" rx="0.9"/>
<rect x="331.8" y="147.2" width="10.0" height="3.6" stroke="#111" stroke-width="1.1" fill="#c4c4c4" rx="0.9"/>
<rect x="326.2" y="116.4" width="3.8" height="9.0" stroke="#111" stroke-width="1.1" fill="#c4c4c4" rx="0.9"/>
<rect x="326.2" y="157.8" width="3.8" height="9.0" stroke="#111" stroke-width="1.1" fill="#c4c4c4" rx="0.9"/>
<rect x="290.0" y="152.2" width="10.0" height="3.6" stroke="#111" stroke-width="1.1" fill="#c4c4c4" rx="0.9"/>
<rect x="331.8" y="152.2" width="10.0" height="3.6" stroke="#111" stroke-width="1.1" fill="#c4c4c4" rx="0.9"/>
<polyline points="294.6,124.6 294.6,120.6 298.6,120.6" stroke="#111" stroke-width="1.1" fill="none"/>
<polyline points="337.5,124.6 337.5,120.6 333.5,120.6" stroke="#111" stroke-width="1.1" fill="none"/>
<polyline points="294.6,158.6 294.6,162.6 298.6,162.6" stroke="#111" stroke-width="1.1" fill="none"/>
<polyline points="337.5,158.6 337.5,162.6 333.5,162.6" stroke="#111" stroke-width="1.1" fill="none"/>
<circle cx="295.8" cy="167.3" r="2.4" stroke="#111" stroke-width="1.0" fill="none"/>
<text x="311.4" y="145.0" font-size="10.8" textLength="9.5" lengthAdjust="spacingAndGlyphs" fill="#1a1a1a" stroke="#1a1a1a" stroke-width="0.4" text-anchor="start" font-weight="normal">U3</text>
<rect x="352.7" y="121.2" width="9.699999999999989" height="18.499999999999986" fill="#141414" rx="1.0"/>
<rect x="354.09999999999997" y="122.60000000000001" width="6.899999999999989" height="15.699999999999985" stroke="#777" stroke-width="0.5" fill="none" rx="0"/>
<rect x="355.09999999999997" y="123.8" width="4.899999999999989" height="3.6999999999999975" stroke="#111" stroke-width="0.1" fill="#e8e8e8" rx="1.2"/>
<line x1="354.9" y1="129.89499999999998" x2="360.2" y2="129.89499999999998" stroke="#cfcfcf" stroke-width="0.9"/>
<rect x="355.09999999999997" y="133.4" width="4.899999999999989" height="3.6999999999999975" stroke="#111" stroke-width="0.1" fill="#bdbdbd" rx="1.2"/>
<rect x="397.3" y="126.1" width="13.1" height="29.0" stroke="#111" stroke-width="1.8" fill="none" rx="0"/>
<rect x="399.0" y="127.6" width="9.8" height="6.8" stroke="#222" stroke-width="1.1" fill="#fff" rx="0"/>
<rect x="399.0" y="147.0" width="9.8" height="6.6" stroke="#222" stroke-width="1.1" fill="#fff" rx="0"/>
<text x="401.3" y="135.0" font-size="9" textLength="11.5" lengthAdjust="spacingAndGlyphs" transform="rotate(90 401.3 135.0)" fill="#1a1a1a" stroke="#1a1a1a" stroke-width="0.4" text-anchor="start" font-weight="normal">J10</text>
<text x="380.0" y="134.4" font-size="10.8" textLength="15" lengthAdjust="spacingAndGlyphs" fill="#1a1a1a" stroke="#1a1a1a" stroke-width="0.4" text-anchor="start" font-weight="normal">PPM</text>
<text x="376.5" y="154.7" font-size="10.8" textLength="18.5" lengthAdjust="spacingAndGlyphs" fill="#1a1a1a" stroke="#1a1a1a" stroke-width="0.4" text-anchor="start" font-weight="normal">SBUS</text>
<rect x="359.7" y="171.9" width="18.600000000000023" height="8.799999999999983" fill="#141414" rx="1.0"/>
<rect x="361.09999999999997" y="173.3" width="15.800000000000022" height="5.999999999999983" stroke="#777" stroke-width="0.5" fill="none" rx="0"/>
<text x="361.90" y="179.10" font-size="8.2" textLength="14.2" lengthAdjust="spacingAndGlyphs" fill="#e2e2e2" stroke="#e2e2e2" stroke-width="0.25">D1</text>
<rect x="351.6" y="183.5" width="28.5" height="12.1" stroke="#111" stroke-width="1.6" fill="none" rx="0"/>
<rect x="353.2" y="185.1" width="14" height="9" fill="#111" rx="0"/>
<text x="353.6" y="192.5" font-size="7" textLength="8" lengthAdjust="spacingAndGlyphs" fill="#ddd" stroke="#ddd" stroke-width="0.4" text-anchor="start" font-weight="normal">D1</text>
<rect x="369.0" y="186.0" width="9.0" height="7.6" stroke="#222" stroke-width="0.9" fill="#fff" rx="0"/>
<text x="383.6" y="193.6" font-size="10.8" textLength="9.7" lengthAdjust="spacingAndGlyphs" fill="#1a1a1a" stroke="#1a1a1a" stroke-width="0.4" text-anchor="start" font-weight="normal">PW</text>
<rect x="249.1" y="196.6" width="3.3" height="15.0" stroke="#1a1a1a" stroke-width="0.95" fill="#f0f0f0" rx="1.1"/>
<rect x="249.1" y="315.4" width="3.3" height="15.6" stroke="#1a1a1a" stroke-width="0.95" fill="#f0f0f0" rx="1.1"/>
<rect x="222.4" y="222.9" width="16.4" height="3.3" stroke="#1a1a1a" stroke-width="0.95" fill="#e0e0e0" rx="1.3"/>
<rect x="341.5" y="222.9" width="16.4" height="3.3" stroke="#1a1a1a" stroke-width="0.95" fill="#e0e0e0" rx="1.3"/>
<rect x="254.34" y="196.6" width="3.3" height="15.0" stroke="#1a1a1a" stroke-width="0.95" fill="#f0f0f0" rx="1.1"/>
<rect x="254.34" y="315.4" width="3.3" height="15.6" stroke="#1a1a1a" stroke-width="0.95" fill="#f0f0f0" rx="1.1"/>
<rect x="222.4" y="228.11" width="16.4" height="3.3" stroke="#1a1a1a" stroke-width="0.95" fill="#e0e0e0" rx="1.3"/>
<rect x="341.5" y="228.11" width="16.4" height="3.3" stroke="#1a1a1a" stroke-width="0.95" fill="#e0e0e0" rx="1.3"/>
<rect x="259.58" y="196.6" width="3.3" height="15.0" stroke="#1a1a1a" stroke-width="0.95" fill="#f0f0f0" rx="1.1"/>
<rect x="259.58" y="315.4" width="3.3" height="15.6" stroke="#1a1a1a" stroke-width="0.95" fill="#f0f0f0" rx="1.1"/>
<rect x="222.4" y="233.32" width="16.4" height="3.3" stroke="#1a1a1a" stroke-width="0.95" fill="#e0e0e0" rx="1.3"/>
<rect x="341.5" y="233.32" width="16.4" height="3.3" stroke="#1a1a1a" stroke-width="0.95" fill="#e0e0e0" rx="1.3"/>
<rect x="264.82" y="196.6" width="3.3" height="15.0" stroke="#1a1a1a" stroke-width="0.95" fill="#f0f0f0" rx="1.1"/>
<rect x="264.82" y="315.4" width="3.3" height="15.6" stroke="#1a1a1a" stroke-width="0.95" fill="#f0f0f0" rx="1.1"/>
<rect x="222.4" y="238.53" width="16.4" height="3.3" stroke="#1a1a1a" stroke-width="0.95" fill="#e0e0e0" rx="1.3"/>
<rect x="341.5" y="238.53" width="16.4" height="3.3" stroke="#1a1a1a" stroke-width="0.95" fill="#e0e0e0" rx="1.3"/>
<rect x="270.06" y="196.6" width="3.3" height="15.0" stroke="#1a1a1a" stroke-width="0.95" fill="#f0f0f0" rx="1.1"/>
<rect x="270.06" y="315.4" width="3.3" height="15.6" stroke="#1a1a1a" stroke-width="0.95" fill="#f0f0f0" rx="1.1"/>
<rect x="222.4" y="243.74" width="16.4" height="3.3" stroke="#1a1a1a" stroke-width="0.95" fill="#e0e0e0" rx="1.3"/>
<rect x="341.5" y="243.74" width="16.4" height="3.3" stroke="#1a1a1a" stroke-width="0.95" fill="#e0e0e0" rx="1.3"/>
<rect x="275.3" y="196.6" width="3.3" height="15.0" stroke="#1a1a1a" stroke-width="0.95" fill="#f0f0f0" rx="1.1"/>
<rect x="275.3" y="315.4" width="3.3" height="15.6" stroke="#1a1a1a" stroke-width="0.95" fill="#f0f0f0" rx="1.1"/>
<rect x="222.4" y="248.95000000000002" width="16.4" height="3.3" stroke="#1a1a1a" stroke-width="0.95" fill="#e0e0e0" rx="1.3"/>
<rect x="341.5" y="248.95000000000002" width="16.4" height="3.3" stroke="#1a1a1a" stroke-width="0.95" fill="#e0e0e0" rx="1.3"/>
<rect x="280.54" y="196.6" width="3.3" height="15.0" stroke="#1a1a1a" stroke-width="0.95" fill="#f0f0f0" rx="1.1"/>
<rect x="280.54" y="315.4" width="3.3" height="15.6" stroke="#1a1a1a" stroke-width="0.95" fill="#f0f0f0" rx="1.1"/>
<rect x="222.4" y="254.16" width="16.4" height="3.3" stroke="#1a1a1a" stroke-width="0.95" fill="#e0e0e0" rx="1.3"/>
<rect x="341.5" y="254.16" width="16.4" height="3.3" stroke="#1a1a1a" stroke-width="0.95" fill="#e0e0e0" rx="1.3"/>
<rect x="285.78" y="196.6" width="3.3" height="15.0" stroke="#1a1a1a" stroke-width="0.95" fill="#f0f0f0" rx="1.1"/>
<rect x="285.78" y="315.4" width="3.3" height="15.6" stroke="#1a1a1a" stroke-width="0.95" fill="#f0f0f0" rx="1.1"/>
<rect x="222.4" y="259.37" width="16.4" height="3.3" stroke="#1a1a1a" stroke-width="0.95" fill="#e0e0e0" rx="1.3"/>
<rect x="341.5" y="259.37" width="16.4" height="3.3" stroke="#1a1a1a" stroke-width="0.95" fill="#e0e0e0" rx="1.3"/>
<rect x="291.02" y="196.6" width="3.3" height="15.0" stroke="#1a1a1a" stroke-width="0.95" fill="#f0f0f0" rx="1.1"/>
<rect x="291.02" y="315.4" width="3.3" height="15.6" stroke="#1a1a1a" stroke-width="0.95" fill="#f0f0f0" rx="1.1"/>
<rect x="222.4" y="264.58" width="16.4" height="3.3" stroke="#1a1a1a" stroke-width="0.95" fill="#e0e0e0" rx="1.3"/>
<rect x="341.5" y="264.58" width="16.4" height="3.3" stroke="#1a1a1a" stroke-width="0.95" fill="#e0e0e0" rx="1.3"/>
<rect x="296.26" y="196.6" width="3.3" height="15.0" stroke="#1a1a1a" stroke-width="0.95" fill="#f0f0f0" rx="1.1"/>
<rect x="296.26" y="315.4" width="3.3" height="15.6" stroke="#1a1a1a" stroke-width="0.95" fill="#f0f0f0" rx="1.1"/>
<rect x="222.4" y="269.79" width="16.4" height="3.3" stroke="#1a1a1a" stroke-width="0.95" fill="#e0e0e0" rx="1.3"/>
<rect x="341.5" y="269.79" width="16.4" height="3.3" stroke="#1a1a1a" stroke-width="0.95" fill="#e0e0e0" rx="1.3"/>
<rect x="301.5" y="196.6" width="3.3" height="15.0" stroke="#1a1a1a" stroke-width="0.95" fill="#f0f0f0" rx="1.1"/>
<rect x="301.5" y="315.4" width="3.3" height="15.6" stroke="#1a1a1a" stroke-width="0.95" fill="#f0f0f0" rx="1.1"/>
<rect x="222.4" y="275.0" width="16.4" height="3.3" stroke="#1a1a1a" stroke-width="0.95" fill="#e0e0e0" rx="1.3"/>
<rect x="341.5" y="275.0" width="16.4" height="3.3" stroke="#1a1a1a" stroke-width="0.95" fill="#e0e0e0" rx="1.3"/>
<rect x="306.74" y="196.6" width="3.3" height="15.0" stroke="#1a1a1a" stroke-width="0.95" fill="#f0f0f0" rx="1.1"/>
<rect x="306.74" y="315.4" width="3.3" height="15.6" stroke="#1a1a1a" stroke-width="0.95" fill="#f0f0f0" rx="1.1"/>
<rect x="222.4" y="280.21000000000004" width="16.4" height="3.3" stroke="#1a1a1a" stroke-width="0.95" fill="#e0e0e0" rx="1.3"/>
<rect x="341.5" y="280.21000000000004" width="16.4" height="3.3" stroke="#1a1a1a" stroke-width="0.95" fill="#e0e0e0" rx="1.3"/>
<rect x="311.98" y="196.6" width="3.3" height="15.0" stroke="#1a1a1a" stroke-width="0.95" fill="#f0f0f0" rx="1.1"/>
<rect x="311.98" y="315.4" width="3.3" height="15.6" stroke="#1a1a1a" stroke-width="0.95" fill="#f0f0f0" rx="1.1"/>
<rect x="222.4" y="285.42" width="16.4" height="3.3" stroke="#1a1a1a" stroke-width="0.95" fill="#e0e0e0" rx="1.3"/>
<rect x="341.5" y="285.42" width="16.4" height="3.3" stroke="#1a1a1a" stroke-width="0.95" fill="#e0e0e0" rx="1.3"/>
<rect x="317.22" y="196.6" width="3.3" height="15.0" stroke="#1a1a1a" stroke-width="0.95" fill="#f0f0f0" rx="1.1"/>
<rect x="317.22" y="315.4" width="3.3" height="15.6" stroke="#1a1a1a" stroke-width="0.95" fill="#f0f0f0" rx="1.1"/>
<rect x="222.4" y="290.63" width="16.4" height="3.3" stroke="#1a1a1a" stroke-width="0.95" fill="#e0e0e0" rx="1.3"/>
<rect x="341.5" y="290.63" width="16.4" height="3.3" stroke="#1a1a1a" stroke-width="0.95" fill="#e0e0e0" rx="1.3"/>
<rect x="322.46" y="196.6" width="3.3" height="15.0" stroke="#1a1a1a" stroke-width="0.95" fill="#f0f0f0" rx="1.1"/>
<rect x="322.46" y="315.4" width="3.3" height="15.6" stroke="#1a1a1a" stroke-width="0.95" fill="#f0f0f0" rx="1.1"/>
<rect x="222.4" y="295.84000000000003" width="16.4" height="3.3" stroke="#1a1a1a" stroke-width="0.95" fill="#e0e0e0" rx="1.3"/>
<rect x="341.5" y="295.84000000000003" width="16.4" height="3.3" stroke="#1a1a1a" stroke-width="0.95" fill="#e0e0e0" rx="1.3"/>
<rect x="327.7" y="196.6" width="3.3" height="15.0" stroke="#1a1a1a" stroke-width="0.95" fill="#f0f0f0" rx="1.1"/>
<rect x="327.7" y="315.4" width="3.3" height="15.6" stroke="#1a1a1a" stroke-width="0.95" fill="#f0f0f0" rx="1.1"/>
<rect x="222.4" y="301.05" width="16.4" height="3.3" stroke="#1a1a1a" stroke-width="0.95" fill="#e0e0e0" rx="1.3"/>
<rect x="341.5" y="301.05" width="16.4" height="3.3" stroke="#1a1a1a" stroke-width="0.95" fill="#e0e0e0" rx="1.3"/>
<text x="326.9" y="308.5" font-size="10.8" textLength="8.1" lengthAdjust="spacingAndGlyphs" fill="#1a1a1a" stroke="#1a1a1a" stroke-width="0.4" text-anchor="start" font-weight="normal">U1</text>
<polygon points="337.8,311.6 358.0,311.6 337.8,331.4" stroke="#111" stroke-width="0.3" fill="#000"/>
<rect x="368.0" y="231.2" width="19.899999999999977" height="9.5" fill="#141414" rx="1.0"/>
<rect x="369.4" y="232.6" width="17.099999999999977" height="6.7" stroke="#777" stroke-width="0.5" fill="none" rx="0"/>
<text x="370.20" y="239.10" font-size="9.3" textLength="15.5" lengthAdjust="spacingAndGlyphs" fill="#e2e2e2" stroke="#e2e2e2" stroke-width="0.25">C4</text>
<rect x="368.0" y="250.3" width="19.899999999999977" height="9.5" fill="#141414" rx="1.0"/>
<rect x="369.4" y="251.70000000000002" width="17.099999999999977" height="6.7" stroke="#777" stroke-width="0.5" fill="none" rx="0"/>
<text x="370.20" y="258.20" font-size="9.3" textLength="15.5" lengthAdjust="spacingAndGlyphs" fill="#e2e2e2" stroke="#e2e2e2" stroke-width="0.25">R3</text>
<rect x="368.0" y="264.4" width="19.899999999999977" height="9.400000000000034" fill="#141414" rx="1.0"/>
<rect x="369.4" y="265.79999999999995" width="17.099999999999977" height="6.600000000000034" stroke="#777" stroke-width="0.5" fill="none" rx="0"/>
<text x="370.20" y="272.20" font-size="9.1" textLength="15.5" lengthAdjust="spacingAndGlyphs" fill="#e2e2e2" stroke="#e2e2e2" stroke-width="0.25">R1</text>
<rect x="368.6" y="275.8" width="20.8" height="37.2" stroke="#111" stroke-width="1.8" fill="none" rx="0"/>
<rect x="370.8" y="280.5" width="16.6" height="6.8" stroke="#222" stroke-width="1.1" fill="#fff" rx="0"/>
<rect x="370.8" y="301.2" width="16.6" height="7.8" stroke="#222" stroke-width="1.1" fill="#fff" rx="0"/>
<line x1="371" y1="291.0" x2="387" y2="291.0" stroke="#111" stroke-width="0.7"/>
<line x1="371" y1="296.0" x2="387" y2="296.0" stroke="#111" stroke-width="0.7"/>
<polyline points="376,293.5 383,293.5 380.5,291.6" stroke="#111" stroke-width="0.7" fill="none"/>
<rect x="368.0" y="313.6" width="19.899999999999977" height="9.0" fill="#141414" rx="1.0"/>
<rect x="369.4" y="315.0" width="17.099999999999977" height="6.2" stroke="#777" stroke-width="0.5" fill="none" rx="0"/>
<text x="370.20" y="321.00" font-size="8.5" textLength="15.5" lengthAdjust="spacingAndGlyphs" fill="#e2e2e2" stroke="#e2e2e2" stroke-width="0.25">C5</text>
<text x="396.3" y="263.4" font-size="10.8" textLength="20.8" lengthAdjust="spacingAndGlyphs" fill="#1a1a1a" stroke="#1a1a1a" stroke-width="0.4" text-anchor="start" font-weight="normal">PWM5</text>
<text x="396.3" y="290.7" font-size="10.8" textLength="20.8" lengthAdjust="spacingAndGlyphs" fill="#1a1a1a" stroke="#1a1a1a" stroke-width="0.4" text-anchor="start" font-weight="normal">PWM6</text>
<circle cx="373.9" cy="336.2" r="5.0" stroke="#111" stroke-width="1.1" fill="none"/>
<circle cx="388.0" cy="336.2" r="5.0" stroke="#111" stroke-width="1.1" fill="none"/>
<circle cx="405.5" cy="346.0" r="5.0" stroke="#111" stroke-width="1.1" fill="none"/>
<circle cx="415.7" cy="362.5" r="5.0" stroke="#111" stroke-width="1.1" fill="none"/>
<text x="359.0" y="333.0" font-size="10.8" textLength="9.7" lengthAdjust="spacingAndGlyphs" fill="#1a1a1a" stroke="#1a1a1a" stroke-width="0.4" text-anchor="start" font-weight="normal">DM</text>
<text x="389.0" y="330.0" font-size="10.8" textLength="9.5" lengthAdjust="spacingAndGlyphs" fill="#1a1a1a" stroke="#1a1a1a" stroke-width="0.4" text-anchor="start" font-weight="normal">DP</text>
<text x="397.8" y="338.9" font-size="10.8" textLength="13.7" lengthAdjust="spacingAndGlyphs" fill="#1a1a1a" stroke="#1a1a1a" stroke-width="0.4" text-anchor="start" font-weight="normal">GND</text>
<text x="422.0" y="366.5" font-size="10.8" textLength="18.5" lengthAdjust="spacingAndGlyphs" fill="#1a1a1a" stroke="#1a1a1a" stroke-width="0.4" text-anchor="start" font-weight="normal">VBUS</text>
<rect x="370.9" y="343.0" width="9.0" height="19.0" fill="#141414" rx="1.0"/>
<rect x="372.29999999999995" y="344.4" width="6.2" height="16.2" stroke="#777" stroke-width="0.5" fill="none" rx="0"/>
<rect x="380.6" y="343.0" width="9.399999999999977" height="19.0" fill="#141414" rx="1.0"/>
<rect x="382.0" y="344.4" width="6.599999999999977" height="16.2" stroke="#777" stroke-width="0.5" fill="none" rx="0"/>
<rect x="372.9" y="345.5" width="5" height="4" stroke="#111" stroke-width="0.1" fill="#ddd" rx="1"/>
<rect x="372.9" y="354" width="5" height="4" stroke="#111" stroke-width="0.1" fill="#ddd" rx="1"/>
<rect x="382.6" y="345.5" width="5" height="4" stroke="#111" stroke-width="0.1" fill="#ddd" rx="1"/>
<rect x="382.6" y="354" width="5" height="4" stroke="#111" stroke-width="0.1" fill="#ddd" rx="1"/>
<rect x="414.6" y="309.0" width="16.8" height="41.8" stroke="#111" stroke-width="1.8" fill="none" rx="0"/>
<rect x="418.0" y="311.8" width="9.4" height="12.8" stroke="#222" stroke-width="1.1" fill="#fff" rx="0"/>
<rect x="418.0" y="327.2" width="9.4" height="20.8" stroke="#333" stroke-width="0.8" fill="none" rx="0"/>
<line x1="416.5" y1="326.6" x2="429.5" y2="326.6" stroke="#111" stroke-width="1.1"/>
<polygon points="422.7,325.6 426.6,331.6 418.8,331.6" stroke="#111" stroke-width="0.6" fill="#111"/>
<text x="419.6" y="333.5" font-size="9" textLength="12.5" lengthAdjust="spacingAndGlyphs" transform="rotate(90 419.6 333.5)" fill="#1a1a1a" stroke="#1a1a1a" stroke-width="0.4" text-anchor="start" font-weight="normal">D2</text>
<rect x="452.0" y="266.3" width="46.8" height="95.2" stroke="#111" stroke-width="2.0" fill="none" rx="0"/>
<rect x="479.0" y="269.3" width="17.8" height="11.8" stroke="#222" stroke-width="1.1" fill="#fff" rx="0"/>
<rect x="479.0" y="347.3" width="17.8" height="12.0" stroke="#222" stroke-width="1.1" fill="#fff" rx="0"/>
<rect x="443.8" y="285.6" width="20.0" height="5.6" stroke="#222" stroke-width="1.0" fill="#fff" rx="0"/>
<rect x="443.8" y="295.98" width="20.0" height="5.6" stroke="#222" stroke-width="1.0" fill="#fff" rx="0"/>
<rect x="443.8" y="306.36" width="20.0" height="5.6" stroke="#222" stroke-width="1.0" fill="#fff" rx="0"/>
<rect x="443.8" y="316.74" width="20.0" height="5.6" stroke="#222" stroke-width="1.0" fill="#fff" rx="0"/>
<rect x="443.8" y="327.12" width="20.0" height="5.6" stroke="#222" stroke-width="1.0" fill="#fff" rx="0"/>
<rect x="443.8" y="337.5" width="20.0" height="5.6" stroke="#222" stroke-width="1.0" fill="#fff" rx="0"/>
<text x="457.4" y="278.5" font-size="10.8" textLength="14.3" lengthAdjust="spacingAndGlyphs" fill="#1a1a1a" stroke="#1a1a1a" stroke-width="0.4" text-anchor="start" font-weight="normal">J16</text>
<text x="502.3" y="294.5" font-size="9.5" textLength="18.9" lengthAdjust="spacingAndGlyphs" fill="#1a1a1a" stroke="#1a1a1a" stroke-width="0.4" text-anchor="start" font-weight="normal">PWM1</text>
<text x="502.3" y="303.85" font-size="9.5" textLength="18.9" lengthAdjust="spacingAndGlyphs" fill="#1a1a1a" stroke="#1a1a1a" stroke-width="0.4" text-anchor="start" font-weight="normal">PWM2</text>
<text x="502.3" y="313.2" font-size="9.5" textLength="18.9" lengthAdjust="spacingAndGlyphs" fill="#1a1a1a" stroke="#1a1a1a" stroke-width="0.4" text-anchor="start" font-weight="normal">PWM4</text>
<text x="502.3" y="322.55" font-size="9.5" textLength="18.9" lengthAdjust="spacingAndGlyphs" fill="#1a1a1a" stroke="#1a1a1a" stroke-width="0.4" text-anchor="start" font-weight="normal">PWM3</text>
<text x="502.0" y="332.3" font-size="9.5" textLength="8.7" lengthAdjust="spacingAndGlyphs" fill="#1a1a1a" stroke="#1a1a1a" stroke-width="0.4" text-anchor="start" font-weight="normal">5V</text>
<text x="501.5" y="342.5" font-size="9.5" textLength="13.8" lengthAdjust="spacingAndGlyphs" fill="#1a1a1a" stroke="#1a1a1a" stroke-width="0.4" text-anchor="start" font-weight="normal">GND</text>
<rect x="345.5" y="370.3" width="77.3" height="51.3" stroke="#111" stroke-width="1.6" fill="none" rx="0"/>
<line x1="345.5" y1="421.2" x2="422.8" y2="421.2" stroke="#111" stroke-width="2.2"/>
<rect x="367.4" y="365.8" width="5.0" height="15.0" stroke="#222" stroke-width="1.0" fill="#fafafa" rx="0"/>
<rect x="374.4" y="365.8" width="5.0" height="15.0" stroke="#222" stroke-width="1.0" fill="#fafafa" rx="0"/>
<rect x="381.3" y="365.8" width="5.0" height="15.0" stroke="#222" stroke-width="1.0" fill="#fafafa" rx="0"/>
<rect x="388.2" y="365.8" width="5.0" height="15.0" stroke="#222" stroke-width="1.0" fill="#fafafa" rx="0"/>
<rect x="394.9" y="365.8" width="5.0" height="15.0" stroke="#222" stroke-width="1.0" fill="#fafafa" rx="0"/>
<circle cx="358.3" cy="373.3" r="3.3" stroke="#111" stroke-width="1.1" fill="#fff"/>
<circle cx="409.2" cy="373.3" r="3.3" stroke="#111" stroke-width="1.1" fill="#fff"/>
<ellipse cx="345.0" cy="402.4" rx="7.7" ry="10" stroke="#222" stroke-width="1.1" fill="none"/>
<ellipse cx="345.0" cy="402.4" rx="5.4" ry="7.5" stroke="#222" stroke-width="1.1" fill="none"/>
<ellipse cx="423.2" cy="402.4" rx="7.7" ry="10" stroke="#222" stroke-width="1.1" fill="none"/>
<ellipse cx="423.2" cy="402.4" rx="5.4" ry="7.5" stroke="#222" stroke-width="1.1" fill="none"/>
<text x="379.6" y="417.0" font-size="10.8" textLength="19" lengthAdjust="spacingAndGlyphs" fill="#1a1a1a" stroke="#1a1a1a" stroke-width="0.4" text-anchor="start" font-weight="normal">USB1</text>
<polyline points="339.2,428.2 344.2,423.6 349.1,423.6 349.1,431.5 418.2,431.5 418.2,423.6 423.2,423.6 428.2,428.2" stroke="#111" stroke-width="1.3" fill="none"/>
<rect x="252.4" y="351.1" width="79.4" height="71.9" stroke="#111" stroke-width="1.6" fill="none" rx="0"/>
<line x1="252.4" y1="423.1" x2="331.8" y2="423.1" stroke="#111" stroke-width="2.4"/>
<rect x="272.2" y="352.2" width="7.5" height="19.3" stroke="#222" stroke-width="1.0" fill="#fff" rx="0"/>
<rect x="287.2" y="352.2" width="8.400000000000034" height="19.3" stroke="#222" stroke-width="1.0" fill="#fff" rx="0"/>
<rect x="302.7" y="352.2" width="8.100000000000023" height="19.3" stroke="#222" stroke-width="1.0" fill="#fff" rx="0"/>
<rect x="249.6" y="395.0" width="15.7" height="16.4" stroke="#222" stroke-width="1.0" fill="#fff" rx="0"/>
<rect x="317.7" y="395.0" width="15.0" height="16.4" stroke="#222" stroke-width="1.0" fill="#fff" rx="0"/>
<circle cx="327.6" cy="380.5" r="3.5" stroke="#111" stroke-width="1.2" fill="#fff"/>
<circle cx="245.2" cy="380.5" r="4.0" stroke="#111" stroke-width="1.1" fill="none"/>
<text x="256.5" y="365.9" font-size="10.8" textLength="8.8" lengthAdjust="spacingAndGlyphs" fill="#1a1a1a" stroke="#1a1a1a" stroke-width="0.4" text-anchor="start" font-weight="normal">J8</text>
<text x="291.0" y="346.6" font-size="10.8" textLength="14.5" lengthAdjust="spacingAndGlyphs" fill="#1a1a1a" stroke="#1a1a1a" stroke-width="0.4" text-anchor="start" font-weight="normal">CH2</text>
<circle cx="313.0" cy="342.9" r="5.0" stroke="#111" stroke-width="1.1" fill="none"/>
<rect x="253.2" y="337.0" width="18.80000000000001" height="9.0" fill="#141414" rx="1.0"/>
<rect x="254.6" y="338.4" width="16.00000000000001" height="6.2" stroke="#777" stroke-width="0.5" fill="none" rx="0"/>
<text x="255.40" y="344.40" font-size="8.5" textLength="14.4" lengthAdjust="spacingAndGlyphs" fill="#e2e2e2" stroke="#e2e2e2" stroke-width="0.25">R24</text>
<rect x="322.4" y="339.9" width="18.900000000000034" height="9.0" fill="#141414" rx="1.0"/>
<rect x="323.79999999999995" y="341.29999999999995" width="16.100000000000033" height="6.2" stroke="#777" stroke-width="0.5" fill="none" rx="0"/>
<text x="324.60" y="347.30" font-size="8.5" textLength="14.5" lengthAdjust="spacingAndGlyphs" fill="#e2e2e2" stroke="#e2e2e2" stroke-width="0.25">C24</text>
<rect x="336.4" y="350.2" width="8.600000000000023" height="17.900000000000034" fill="#141414" rx="1.0"/>
<rect x="337.79999999999995" y="351.59999999999997" width="5.800000000000023" height="15.100000000000033" stroke="#777" stroke-width="0.5" fill="none" rx="0"/>
<rect x="346.3" y="350.2" width="9.300000000000011" height="17.900000000000034" fill="#141414" rx="1.0"/>
<rect x="347.7" y="351.59999999999997" width="6.5000000000000115" height="15.100000000000033" stroke="#777" stroke-width="0.5" fill="none" rx="0"/>
<rect x="338.4" y="353" width="4.5" height="4" stroke="#111" stroke-width="0.1" fill="#ccc" rx="1"/>
<rect x="338.4" y="361" width="4.5" height="4" stroke="#111" stroke-width="0.1" fill="#ccc" rx="1"/>
<rect x="348.6" y="353" width="4.5" height="4" stroke="#111" stroke-width="0.1" fill="#ccc" rx="1"/>
<rect x="348.6" y="361" width="4.5" height="4" stroke="#111" stroke-width="0.1" fill="#ccc" rx="1"/>
<text x="240.5" y="393.0" font-size="10" textLength="24.4" lengthAdjust="spacingAndGlyphs" transform="rotate(90 240.5 393.0)" fill="#1a1a1a" stroke="#1a1a1a" stroke-width="0.4" text-anchor="start" font-weight="normal">BOOT0</text>
<text x="273.7" y="429.9" font-size="12.5" textLength="27.8" lengthAdjust="spacingAndGlyphs" transform="rotate(90 273.7 429.9)" fill="#1a1a1a" stroke="#1a1a1a" stroke-width="0.4" text-anchor="start" font-weight="normal">3.3V</text>
<text x="288.0" y="429.9" font-size="12.5" textLength="20.9" lengthAdjust="spacingAndGlyphs" transform="rotate(90 288.0 429.9)" fill="#1a1a1a" stroke="#1a1a1a" stroke-width="0.4" text-anchor="start" font-weight="normal">GND</text>
<text x="304.7" y="429.9" font-size="12.5" textLength="27.8" lengthAdjust="spacingAndGlyphs" transform="rotate(90 304.7 429.9)" fill="#1a1a1a" stroke="#1a1a1a" stroke-width="0.4" text-anchor="start" font-weight="normal">DSM2</text>
<rect x="206.0" y="283.3" width="8.599999999999994" height="37.39999999999998" fill="#141414" rx="1.0"/>
<rect x="207.4" y="284.7" width="5.7999999999999945" height="34.59999999999998" stroke="#777" stroke-width="0.5" fill="none" rx="0"/>
<rect x="207.8" y="286.0" width="5" height="5" stroke="#111" stroke-width="0.1" fill="#ddd" rx="0.8"/>
<rect x="207.8" y="294.8" width="5" height="5" stroke="#111" stroke-width="0.1" fill="#ddd" rx="0.8"/>
<rect x="207.8" y="303.6" width="5" height="5" stroke="#111" stroke-width="0.1" fill="#ddd" rx="0.8"/>
<rect x="207.8" y="312.4" width="5" height="5" stroke="#111" stroke-width="0.1" fill="#ddd" rx="0.8"/>
<circle cx="222.6" cy="316.2" r="5.0" stroke="#111" stroke-width="1.1" fill="none"/>
<circle cx="235.9" cy="322.4" r="5.0" stroke="#111" stroke-width="1.1" fill="none"/>
<circle cx="225.4" cy="334.0" r="5.0" stroke="#111" stroke-width="1.1" fill="none"/>
<circle cx="215.5" cy="345.6" r="5.0" stroke="#111" stroke-width="1.1" fill="none"/>
<text x="209.3" y="329.9" font-size="10.8" textLength="8.7" lengthAdjust="spacingAndGlyphs" fill="#1a1a1a" stroke="#1a1a1a" stroke-width="0.4" text-anchor="start" font-weight="normal">3V</text>
<text x="233.7" y="317.4" font-size="10.8" textLength="13.8" lengthAdjust="spacingAndGlyphs" fill="#1a1a1a" stroke="#1a1a1a" stroke-width="0.4" text-anchor="start" font-weight="normal">SWD</text>
<text x="230.4" y="339.5" font-size="10.8" textLength="14.5" lengthAdjust="spacingAndGlyphs" fill="#1a1a1a" stroke="#1a1a1a" stroke-width="0.4" text-anchor="start" font-weight="normal">SWC</text>
<text x="221.3" y="354.0" font-size="10.8" textLength="12.9" lengthAdjust="spacingAndGlyphs" fill="#1a1a1a" stroke="#1a1a1a" stroke-width="0.4" text-anchor="start" font-weight="normal">GND</text>
<rect x="236.4" y="343.8" width="11.799999999999983" height="27.69999999999999" fill="#141414" rx="1.0"/>
<rect x="237.8" y="345.2" width="8.999999999999982" height="24.899999999999988" stroke="#777" stroke-width="0.5" fill="none" rx="0"/>
<rect x="238.6" y="346.5" width="7.5" height="8.5" stroke="#222" stroke-width="0.8" fill="#fff" rx="0"/>
<rect x="238.6" y="358" width="7.5" height="11" stroke="#111" stroke-width="0.1" fill="#ccc" rx="0"/>
<rect x="188.6" y="357.4" width="44.2" height="20.9" stroke="#111" stroke-width="1.8" fill="none" rx="0"/>
<rect x="190.3" y="358.8" width="8.4" height="2.7" stroke="#111" stroke-width="1.0" fill="#b0b0b0" rx="0.6"/>
<rect x="223.0" y="358.8" width="8.4" height="2.7" stroke="#111" stroke-width="1.0" fill="#b0b0b0" rx="0.6"/>
<rect x="190.3" y="364.0" width="8.4" height="2.7" stroke="#111" stroke-width="1.0" fill="#b0b0b0" rx="0.6"/>
<rect x="223.0" y="364.0" width="8.4" height="2.7" stroke="#111" stroke-width="1.0" fill="#b0b0b0" rx="0.6"/>
<rect x="190.3" y="369.2" width="8.4" height="2.7" stroke="#111" stroke-width="1.0" fill="#b0b0b0" rx="0.6"/>
<rect x="223.0" y="369.2" width="8.4" height="2.7" stroke="#111" stroke-width="1.0" fill="#b0b0b0" rx="0.6"/>
<rect x="190.3" y="374.4" width="8.4" height="2.7" stroke="#111" stroke-width="1.0" fill="#b0b0b0" rx="0.6"/>
<rect x="223.0" y="374.4" width="8.4" height="2.7" stroke="#111" stroke-width="1.0" fill="#b0b0b0" rx="0.6"/>
<text x="204.7" y="372.5" font-size="10.8" textLength="13.9" lengthAdjust="spacingAndGlyphs" fill="#1a1a1a" stroke="#1a1a1a" stroke-width="0.4" text-anchor="start" font-weight="normal">U11</text>
<circle cx="185.0" cy="357.7" r="2.4" stroke="#111" stroke-width="1.0" fill="none"/>
<rect x="199.2" y="389.6" width="36.0" height="27.0" stroke="#111" stroke-width="1.5" fill="none" rx="0"/>
<rect x="198.8" y="389.3" width="5.8" height="7.0" stroke="#222" stroke-width="1.2" fill="#fff" rx="0"/>
<rect x="229.6" y="389.3" width="5.8" height="7.0" stroke="#222" stroke-width="1.2" fill="#fff" rx="0"/>
<rect x="198.8" y="410.0" width="5.8" height="7.0" stroke="#222" stroke-width="1.2" fill="#fff" rx="0"/>
<rect x="229.6" y="410.0" width="5.8" height="7.0" stroke="#222" stroke-width="1.2" fill="#fff" rx="0"/>
<text x="210.6" y="407.5" font-size="10.8" textLength="14.4" lengthAdjust="spacingAndGlyphs" fill="#1a1a1a" stroke="#1a1a1a" stroke-width="0.4" text-anchor="start" font-weight="normal">SW1</text>
<text x="187.5" y="396.2" font-size="10.8" textLength="8.3" lengthAdjust="spacingAndGlyphs" fill="#1a1a1a" stroke="#1a1a1a" stroke-width="0.4" text-anchor="start" font-weight="normal">ST</text>
<rect x="186.0" y="399.2" width="9.400000000000006" height="17.80000000000001" fill="#141414" rx="1.0"/>
<rect x="187.4" y="400.59999999999997" width="6.600000000000006" height="15.00000000000001" stroke="#777" stroke-width="0.5" fill="none" rx="0"/>
<text x="187.60" y="401.40" font-size="9.1" textLength="13.4" lengthAdjust="spacingAndGlyphs" transform="rotate(90 187.60 401.40)" fill="#e2e2e2" stroke="#e2e2e2" stroke-width="0.25">R10</text>
<circle cx="244.3" cy="380.4" r="4.0" stroke="#111" stroke-width="1.1" fill="none"/>
</svg></body></html>
